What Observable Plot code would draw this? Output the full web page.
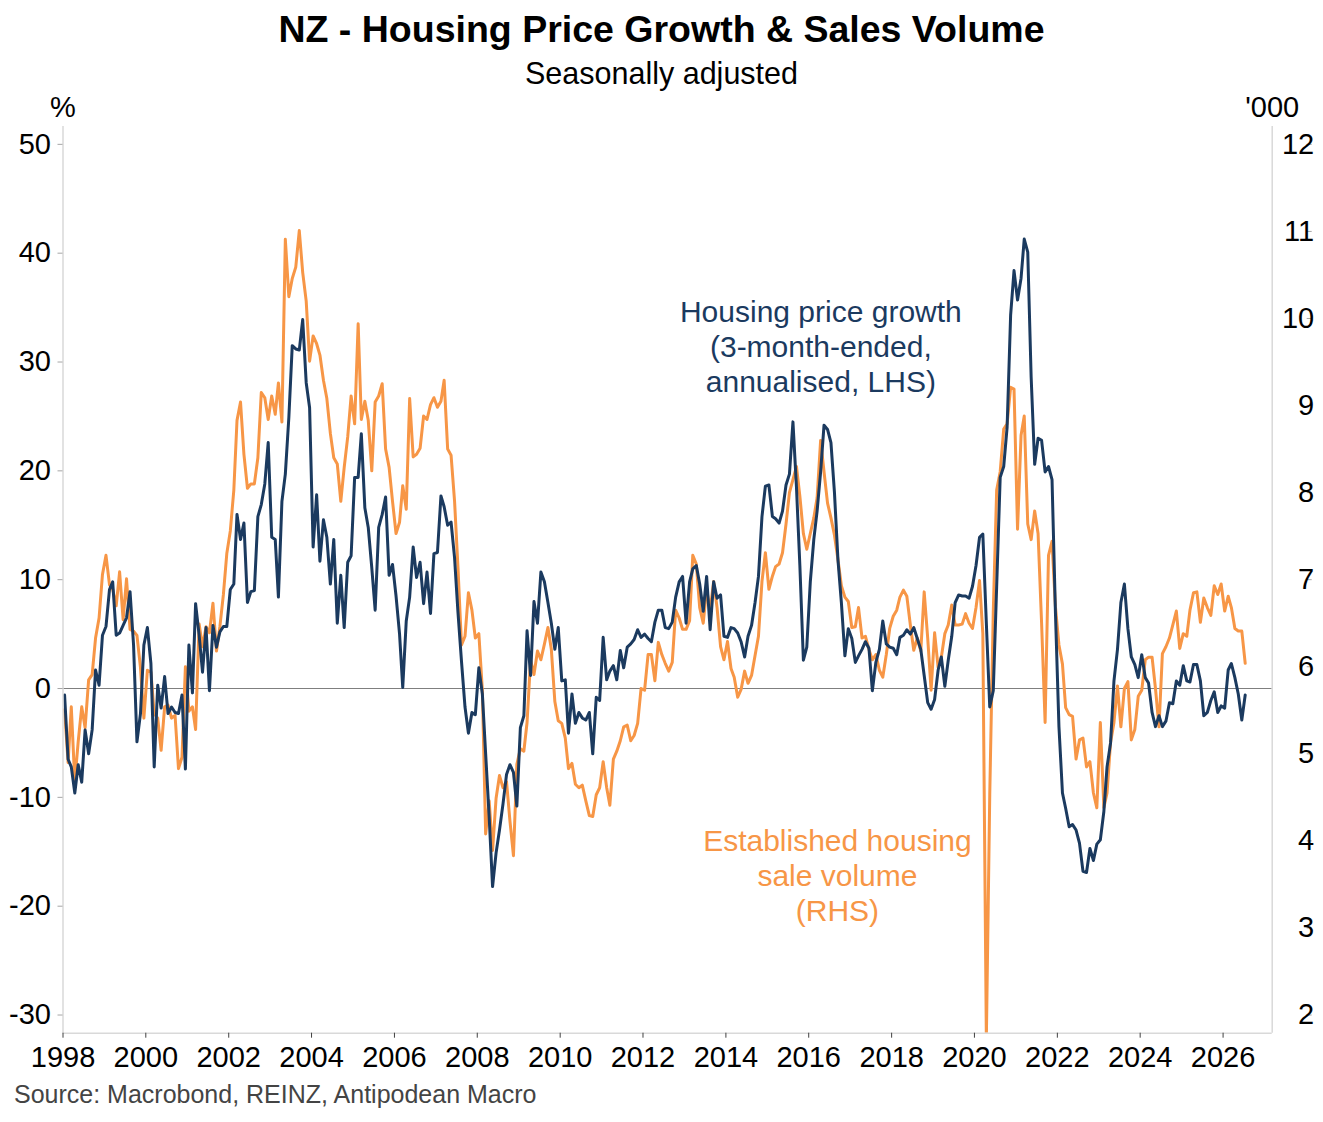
<!DOCTYPE html>
<html><head><meta charset="utf-8">
<script src="https://cdn.jsdelivr.net/npm/d3@7"></script>
<script src="https://cdn.jsdelivr.net/npm/@observablehq/plot@0.6"></script>
<style>
html,body{margin:0;padding:0;background:#fff;}
#wrap{position:relative;width:1323px;height:1122px;font-family:"Liberation Sans",Arial,sans-serif;color:#000;background:#fff;}
#title{position:absolute;left:0;width:1323px;top:11px;text-align:center;font-weight:bold;font-size:37.5px;line-height:1;z-index:2;}
#subtitle{position:absolute;left:0;width:1323px;top:57.5px;text-align:center;font-size:30.5px;line-height:1;z-index:2;}
#chart{position:absolute;left:0;top:80px;z-index:1;}
#source{position:absolute;left:14px;top:1082px;font-size:25px;line-height:1;color:#444;z-index:2;}
</style></head>
<body><div id="wrap">
<div id="title">NZ - Housing Price Growth &amp; Sales Volume</div>
<div id="subtitle">Seasonally adjusted</div>
<div id="chart"></div>
<div id="source">Source: Macrobond, REINZ, Antipodean Macro</div>
</div>
<script>
// Monthly data from Jan 1998
// Housing price growth, 3-month-ended annualised, % (LHS)
const growth = [
 -0.6,-6.5,-7.2,-9.6,-7.0,-8.6,-3.8,-6.0,-3.8,1.7,0.3,4.9,
 5.7,9.1,9.8,4.9,5.1,5.8,6.5,8.9,4.0,-4.9,-2.3,4.0,
 5.6,2.3,-7.2,0.3,-1.8,1.1,-2.3,-1.7,-2.2,-2.3,-0.6,-7.4,
 4.0,-0.4,7.8,4.9,1.5,5.6,-0.2,5.8,3.8,5.2,5.7,5.7,
 9.1,9.6,16.0,13.7,15.2,7.9,8.9,9.0,15.8,16.9,18.8,22.6,
 13.9,13.7,8.4,17.2,19.7,24.9,31.5,31.2,31.1,33.9,28.1,25.8,
 13.0,17.8,11.7,15.5,13.9,9.6,13.7,6.0,10.4,5.6,11.6,12.2,
 19.4,19.4,23.4,16.6,14.8,11.1,7.2,14.8,16.0,17.6,10.4,11.4,
 8.5,5.0,0.1,6.2,8.4,13.0,10.2,11.6,7.8,10.7,6.9,12.4,
 12.5,17.7,16.7,15.0,15.3,12.0,7.0,2.5,-1.7,-4.1,-2.2,-2.4,
 1.9,-0.5,-6.0,-11.8,-18.2,-15.1,-13.0,-10.6,-7.9,-7.0,-7.7,-10.8,
 -3.6,-2.5,5.3,1.2,8.0,6.0,10.7,9.8,7.9,6.0,3.6,5.6,
 0.7,0.8,-4.1,-0.5,-3.2,-2.2,-2.7,-2.9,-2.2,-6.0,-0.8,-1.1,
 4.7,0.8,1.6,2.1,0.8,3.5,1.9,3.8,4.1,4.5,5.4,4.7,
 5.0,4.6,4.3,6.1,7.2,7.2,5.6,5.5,6.1,8.4,9.8,10.3,
 6.0,9.8,11.0,11.3,9.6,7.1,10.3,5.4,9.8,8.3,8.6,4.8,
 4.7,5.6,5.5,5.1,4.3,2.9,4.8,5.8,7.9,10.3,15.8,18.6,
 18.7,15.8,15.6,15.2,16.3,18.7,19.7,24.5,18.5,11.3,2.6,3.8,
 9.8,13.7,16.3,19.9,24.2,23.8,22.6,18.0,11.8,7.9,3.0,5.5,
 4.6,2.4,3.0,3.6,4.3,3.7,-0.2,2.4,3.6,6.2,4.1,3.8,
 3.7,3.1,4.7,4.9,5.4,5.0,5.6,4.6,3.6,1.2,-1.3,-1.9,
 -1.0,1.7,2.9,0.2,2.6,4.8,7.9,8.6,8.5,8.5,8.3,9.4,
 11.3,13.9,14.2,6.0,-1.7,-0.2,9.4,19.4,20.4,24.0,34.3,38.4,
 35.7,37.7,41.3,40.1,28.6,20.6,23.0,22.8,19.9,20.4,19.2,7.0,
 -3.5,-9.6,-11.0,-12.7,-12.5,-13.0,-14.2,-16.8,-16.9,-14.7,-15.8,-14.3,
 -13.9,-11.3,-7.2,-5.0,0.7,3.6,7.9,9.6,5.5,2.9,2.2,1.0,
 3.1,1.0,0.5,-2.2,-3.5,-2.5,-3.5,-3.0,-1.3,-1.4,0.7,0.3,
 2.1,0.7,0.6,2.2,2.2,0.7,-2.5,-2.2,-1.1,-0.3,-2.2,-1.6,
 -1.8,1.7,2.3,1.0,-0.5,-2.9,-0.6
];
// Established housing sale volume, '000 (RHS)
const volume = [
 5.51,4.90,5.54,4.68,5.14,5.54,5.30,5.85,5.91,6.33,6.56,7.06,
 7.28,6.94,6.89,6.70,7.09,6.54,7.01,6.43,6.41,6.36,5.99,5.41,
 5.96,5.94,5.46,5.41,5.04,5.54,5.56,5.41,5.44,4.83,4.96,6.00,
 5.49,5.54,5.28,6.49,6.23,6.46,6.39,6.73,6.18,6.46,6.83,7.30,
 7.56,8.03,8.83,9.04,8.44,8.05,8.10,8.10,8.40,9.15,9.09,8.84,
 9.11,8.90,9.26,8.81,10.91,10.25,10.46,10.59,11.01,10.53,10.20,9.51,
 9.80,9.71,9.58,9.29,9.08,8.68,8.40,8.33,7.90,8.29,8.64,9.11,
 8.79,9.94,8.84,9.05,8.83,8.25,9.04,9.11,9.25,8.50,8.29,7.90,
 7.53,7.66,8.08,7.81,9.08,8.41,8.44,8.51,8.88,8.84,9.01,9.09,
 8.98,9.05,9.29,8.50,8.43,7.90,7.14,6.25,6.35,6.85,6.65,6.33,
 6.38,5.73,4.08,4.46,3.89,4.49,4.75,4.61,4.68,4.23,3.83,4.88,
 5.06,5.03,5.36,6.08,5.91,6.18,6.08,6.26,6.45,6.20,5.60,5.38,
 5.35,5.18,4.83,4.89,4.65,4.61,4.64,4.46,4.29,4.28,4.53,4.61,
 4.91,4.61,4.41,4.94,5.03,5.15,5.31,5.33,5.15,5.21,5.35,5.75,
 5.73,6.14,6.14,5.84,6.28,6.14,6.04,5.95,6.05,6.65,6.56,6.43,
 6.43,6.53,7.28,7.18,6.68,6.50,6.89,6.65,6.98,6.68,6.23,6.08,
 6.29,5.98,5.88,5.65,5.74,5.95,5.81,5.90,6.13,6.35,6.98,7.31,
 6.89,7.04,7.15,7.18,7.31,7.64,8.00,8.15,8.30,7.96,7.53,7.35,
 7.53,7.71,7.94,8.60,8.24,7.88,7.71,7.51,7.23,6.93,6.80,6.75,
 6.45,6.46,6.68,6.33,6.35,6.20,6.08,6.14,5.96,5.88,6.14,6.44,
 6.58,6.65,6.80,6.88,6.81,6.48,6.19,6.33,6.18,6.86,6.33,5.73,
 6.39,5.99,6.11,6.38,6.48,6.71,6.48,6.48,6.49,6.61,6.50,6.44,
 6.68,6.99,6.38,1.72,4.53,6.63,8.03,8.24,8.73,8.79,9.21,9.19,
 7.58,8.66,8.88,7.64,7.46,7.79,7.53,6.50,5.36,7.28,7.44,6.69,
 6.25,6.03,5.53,5.45,5.43,4.94,5.16,5.18,4.85,4.91,4.55,4.38,
 5.36,4.38,4.55,5.13,5.36,5.78,5.31,5.75,5.83,5.16,5.28,5.66,
 5.73,6.08,6.11,6.11,5.75,5.31,6.15,6.23,6.33,6.48,6.64,6.21,
 6.38,6.35,6.65,6.85,6.86,6.51,6.79,6.68,6.59,6.93,6.83,6.95,
 6.64,6.81,6.68,6.44,6.41,6.41,6.04
];
const leftTicks = [-30,-20,-10,0,10,20,30,40,50];
const rightTicks = [2,3,4,5,6,7,8,9,10,11,12];
const startYear = 1998;
const xTickYears = d3.range(1998, 2027, 2);
const priceLabel = {date: "2016-04-17", v: 31.5, text: "Housing price growth\n(3-month-ended,\nannualised, LHS)"};
const volumeLabel = {date: "2016-09-10", r: 3.61, text: "Established housing\nsale volume\n(RHS)"};

const NAVY = "#1b3a5f", ORANGE = "#f79646";
const toLeft = r => -30 + (r - 2) * 8;
const fromLeft = v => Math.round((2 + (v + 30) / 8) * 100) / 100;
const months = growth.map((_, i) => new Date(Date.UTC(startYear, i, 15)));
const growthData = growth.map((v, i) => ({date: months[i], v}));
const volumeData = volume.map((r, i) => ({date: months[i], r}));
const xDomain = [new Date(Date.UTC(1998, 0, 1)), new Date(Date.UTC(2027, 2, 10))];
const yDomain = [-31.67, 51.64];
const xTicks = xTickYears.map(y => new Date(Date.UTC(y, 0, 1)));

const chart = Plot.plot({
  width: 1323, height: 1000,
  marginTop: 46, marginRight: 51.3, marginBottom: 47.3, marginLeft: 62.5,
  x: {type: "utc", domain: xDomain},
  y: {domain: yDomain},
  style: {fontFamily: '"Liberation Sans", Arial, sans-serif', fontSize: "29px", color: "#000", background: "transparent", overflow: "visible"},
  marks: [
    Plot.ruleY([0], {stroke: "#7f7f7f", strokeWidth: 1.2}),
    Plot.lineY(volumeData, {x: "date", y: d => toLeft(d.r), stroke: ORANGE, strokeWidth: 3, clip: true}),
    Plot.lineY(growthData, {x: "date", y: "v", stroke: NAVY, strokeWidth: 3, clip: true}),
    Plot.ruleX(xDomain, {stroke: "#d9d9d9", strokeWidth: 1.5}),
    Plot.ruleY([yDomain[0]], {stroke: "#d9d9d9", strokeWidth: 1.5}),
    Plot.axisY(leftTicks, {anchor: "left", tickSize: 5, tickPadding: 7, tickFormat: d => String(d), stroke: "#a6a6a6", fill: "#000", label: null, fontSize: 29}),
    Plot.axisY(rightTicks.map(toLeft), {anchor: "right", tickSize: 5, tickPadding: 3, tickFormat: d => String(fromLeft(d)), textAnchor: "end", dx: 34, stroke: "#a6a6a6", fill: "#000", label: null, fontSize: 29}),
    Plot.axisX(xTicks, {anchor: "bottom", tickSize: 5, tickPadding: 8, tickFormat: d3.utcFormat("%Y"), stroke: "#404040", fill: "#000", label: null, fontSize: 29}),
    Plot.text(["%"], {text: d => d, frameAnchor: "top-left", dy: -19, fontSize: 29, textAnchor: "middle", lineAnchor: "middle"}),
    Plot.text(["'000"], {text: d => d, frameAnchor: "top-right", dy: -19, fontSize: 29, textAnchor: "middle", lineAnchor: "middle"}),
    Plot.text([priceLabel], {x: d => new Date(d.date), y: "v", text: "text", fill: NAVY, fontSize: 30, lineHeight: 1.17, textAnchor: "middle", lineAnchor: "middle"}),
    Plot.text([volumeLabel], {x: d => new Date(d.date), y: d => toLeft(d.r), text: "text", fill: ORANGE, fontSize: 30, lineHeight: 1.17, textAnchor: "middle", lineAnchor: "middle"})
  ]
});
document.getElementById("chart").appendChild(chart);
</script>
</body></html>
